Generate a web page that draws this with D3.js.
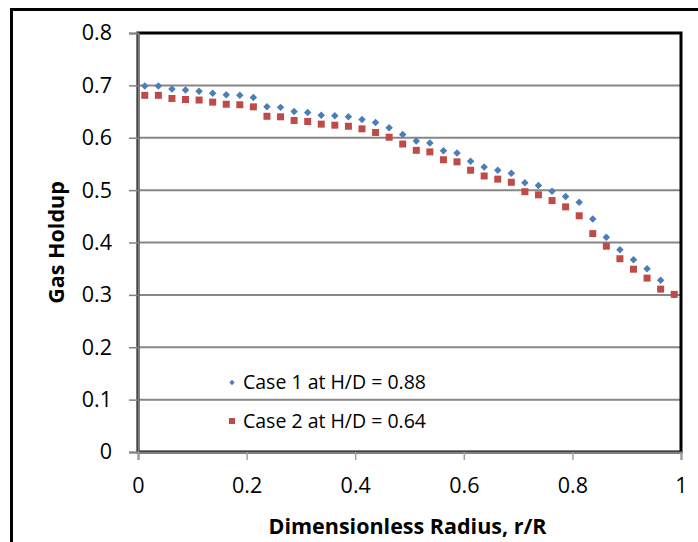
<!DOCTYPE html>
<html>
<head>
<meta charset="utf-8">
<script src="https://cdn.jsdelivr.net/npm/d3@7"></script>
<style>
  html, body { margin: 0; padding: 0; background: #fff; }
  svg { display: block; }
  text { font-family: "Open Sans", "Noto Sans", sans-serif; fill: #000; }
</style>
</head>
<body>
<svg id="chart" width="698" height="542"></svg>
<script>
// Dimensionless radial positions r/R
const radius = [
  0.0125, 0.0375, 0.0625, 0.0875, 0.1125, 0.1375, 0.1625, 0.1875, 0.2125, 0.2375,
  0.2625, 0.2875, 0.3125, 0.3375, 0.3625, 0.3875, 0.4125, 0.4375, 0.4625, 0.4875,
  0.5125, 0.5375, 0.5625, 0.5875, 0.6125, 0.6375, 0.6625, 0.6875, 0.7125, 0.7375,
  0.7625, 0.7875, 0.8125, 0.8375, 0.8625, 0.8875, 0.9125, 0.9375, 0.9625, 0.9875
];

// Gas holdup, case 1 (H/D = 0.88)
const case1 = [
  0.699, 0.699, 0.693, 0.691, 0.689, 0.685, 0.682, 0.681, 0.677, 0.659,
  0.658, 0.650, 0.648, 0.643, 0.642, 0.640, 0.635, 0.629, 0.619, 0.606,
  0.594, 0.590, 0.575, 0.571, 0.555, 0.544, 0.538, 0.532, 0.514, 0.509,
  0.498, 0.488, 0.477, 0.445, 0.410, 0.386, 0.367, 0.350, 0.328, 0.300
];

// Gas holdup, case 2 (H/D = 0.64)
const case2 = [
  0.681, 0.681, 0.675, 0.673, 0.672, 0.668, 0.664, 0.663, 0.659, 0.641,
  0.640, 0.633, 0.631, 0.626, 0.624, 0.622, 0.617, 0.610, 0.601, 0.588,
  0.576, 0.573, 0.558, 0.554, 0.538, 0.527, 0.521, 0.515, 0.497, 0.491,
  0.480, 0.468, 0.451, 0.417, 0.393, 0.369, 0.349, 0.332, 0.311, 0.301
];

const seriesNames = ["Case 1 at H/D = 0.88", "Case 2 at H/D = 0.64"];
const seriesColors = ["#4A7EBB", "#BE4B48"];

const xTicks = [0, 0.2, 0.4, 0.6, 0.8, 1];
const yTicks = [0, 0.1, 0.2, 0.3, 0.4, 0.5, 0.6, 0.7, 0.8];

const svg = d3.select("#chart");

const plot = { left: 138, right: 681, top: 33, bottom: 452 };

const x = d3.scaleLinear().domain([0, 1]).range([plot.left, plot.right]);
const y = d3.scaleLinear().domain([0, 0.8]).range([plot.bottom, plot.top]);

// Outer chart border
svg.append("rect")
  .attr("x", 11.5).attr("y", 9.5)
  .attr("width", 720).attr("height", 560)
  .attr("fill", "none").attr("stroke", "#000").attr("stroke-width", 3);

// Horizontal gridlines
svg.append("g")
  .selectAll("line")
  .data(yTicks.filter(d => d > 0 && d < 0.8))
  .join("line")
  .attr("x1", plot.left).attr("x2", plot.right)
  .attr("y1", d => y(d)).attr("y2", d => y(d))
  .attr("stroke", "#878787").attr("stroke-width", 2);

// Plot area border
svg.append("rect")
  .attr("x", plot.left).attr("y", plot.top)
  .attr("width", plot.right - plot.left).attr("height", plot.bottom - plot.top)
  .attr("fill", "none").attr("stroke", "#000").attr("stroke-width", 3);

// Y axis
const yAxis = svg.append("g")
  .attr("transform", `translate(${plot.left},0)`)
  .call(d3.axisLeft(y).tickValues(yTicks).tickFormat(d3.format("~g")).tickSize(9).tickPadding(17));
yAxis.select(".domain").attr("stroke", "#808080").attr("stroke-width", 2);
yAxis.selectAll(".tick line").attr("stroke", "#808080").attr("stroke-width", 1.5);
yAxis.selectAll(".tick text")
  .style("font-family", "'Open Sans', sans-serif")
  .style("font-size", "21.5px");

// X axis
const xAxis = svg.append("g")
  .attr("transform", `translate(0,${plot.bottom})`)
  .call(d3.axisBottom(x).tickValues(xTicks).tickFormat(d3.format("~g")).tickSize(8).tickPadding(18));
xAxis.select(".domain").attr("stroke", "#808080").attr("stroke-width", 2);
xAxis.selectAll(".tick line").attr("stroke", "#a0a0a0").attr("stroke-width", 1.5);
xAxis.selectAll(".tick text")
  .style("font-family", "'Open Sans', sans-serif")
  .style("font-size", "21.5px");

// Axis titles
svg.append("text")
  .attr("x", (plot.left + plot.right) / 2 - 2)
  .attr("y", 534)
  .attr("text-anchor", "middle")
  .style("font-weight", "bold").style("font-size", "21.5px")
  .text("Dimensionless Radius, r/R");

svg.append("text")
  .attr("transform", `translate(64,${(plot.top + plot.bottom) / 2}) rotate(-90)`)
  .attr("text-anchor", "middle")
  .style("font-weight", "bold").style("font-size", "21.5px")
  .text("Gas Holdup");

// Marker shapes: rotated square (diamond) and square
const diamond = d3.symbol().type(d3.symbolSquare).size(28);
const square = d3.symbol().type(d3.symbolSquare).size(49);

const pts1 = radius.map((r, i) => ({ r, v: case1[i] }));
const pts2 = radius.map((r, i) => ({ r, v: case2[i] }));

svg.append("g")
  .selectAll("path")
  .data(pts1)
  .join("path")
  .attr("d", diamond)
  .attr("transform", d => `translate(${x(d.r)},${y(d.v)}) rotate(45)`)
  .attr("fill", seriesColors[0]);

svg.append("g")
  .selectAll("path")
  .data(pts2)
  .join("path")
  .attr("d", square)
  .attr("transform", d => `translate(${x(d.r)},${y(d.v)})`)
  .attr("fill", seriesColors[1]);

// Legend
const legend = svg.append("g").attr("transform", "translate(232,0)");
const legendRows = [
  { name: seriesNames[0], color: seriesColors[0], sym: d3.symbol().type(d3.symbolSquare).size(14), rot: 45, cy: 382.5 },
  { name: seriesNames[1], color: seriesColors[1], sym: d3.symbol().type(d3.symbolSquare).size(36), rot: 0, cy: 421 }
];
legendRows.forEach(row => {
  legend.append("path")
    .attr("d", row.sym)
    .attr("transform", `translate(0,${row.cy}) rotate(${row.rot})`)
    .attr("fill", row.color);
  legend.append("text")
    .attr("x", 11).attr("y", row.cy)
    .attr("dy", "0.35em")
    .style("font-size", "19.5px")
    .text(row.name);
});
</script>
</body>
</html>
